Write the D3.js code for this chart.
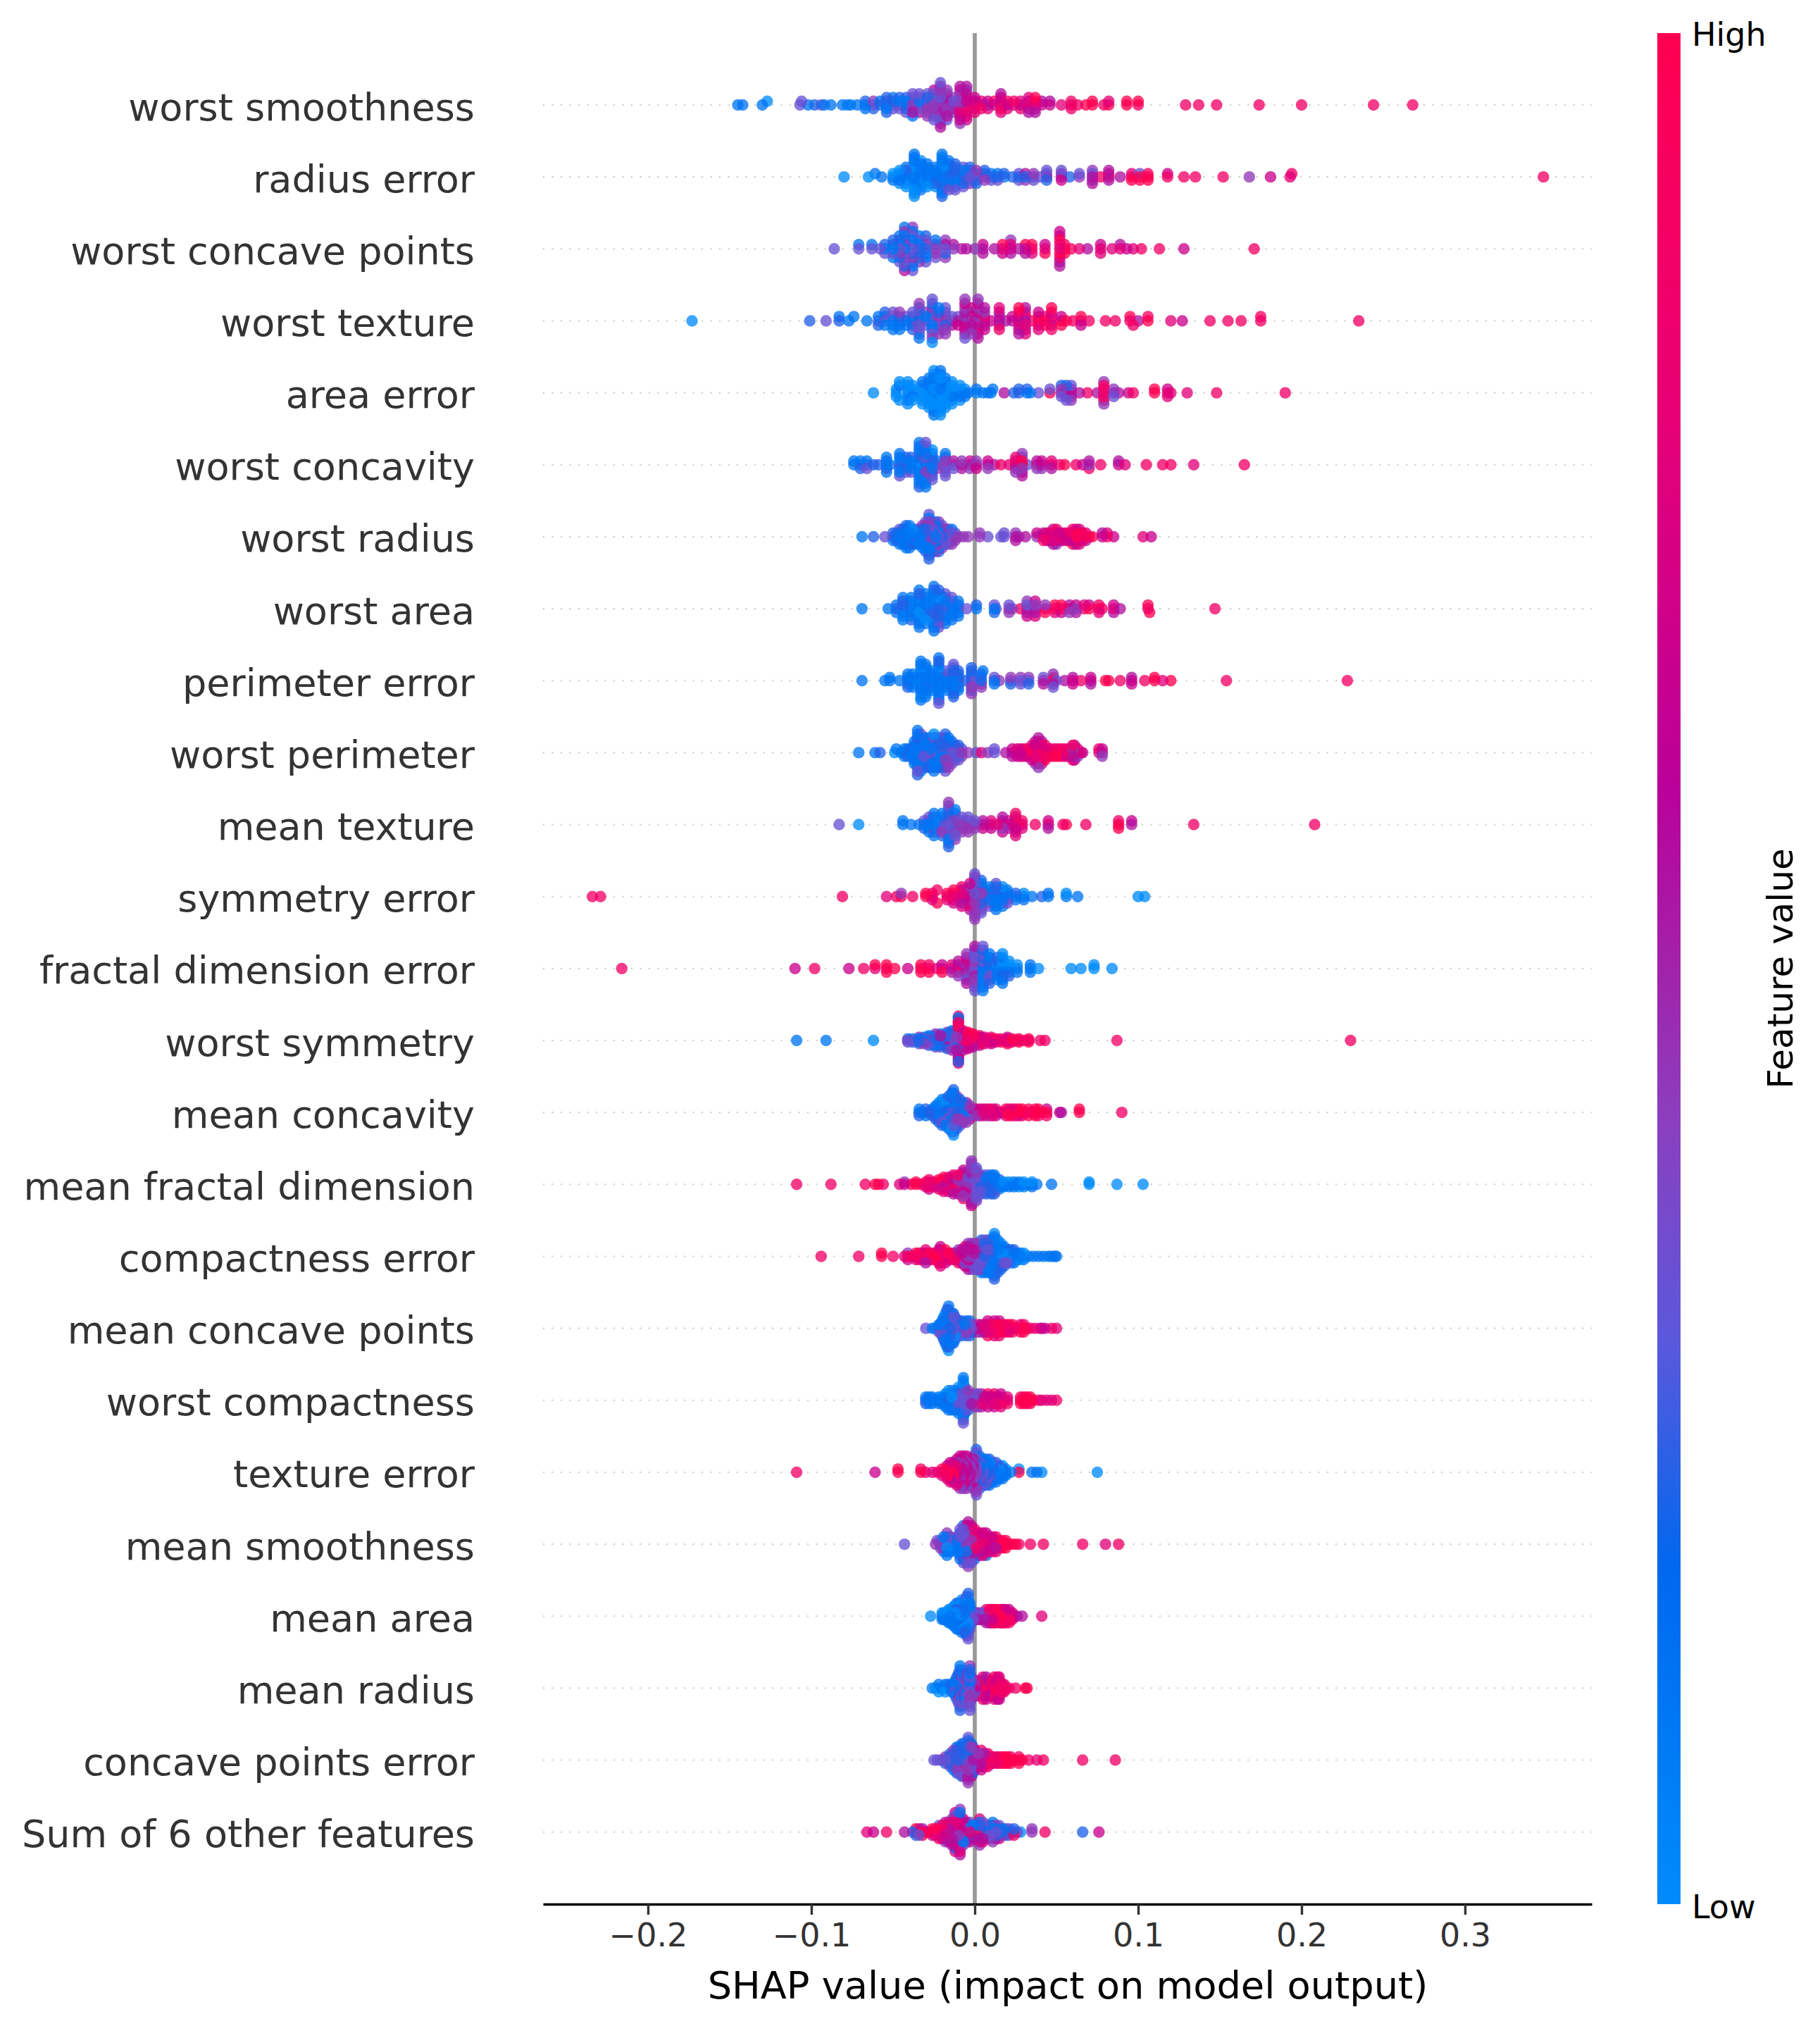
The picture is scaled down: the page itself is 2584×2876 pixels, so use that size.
<!DOCTYPE html>
<html>
<head>
<meta charset="utf-8">
<script src="https://cdn.jsdelivr.net/npm/d3@7"></script>
<style>
  html, body { margin: 0; background: #fff; }
  text { font-family: "DejaVu Sans", sans-serif; }
</style>
</head>
<body>
<div id="chart"></div>
<script>
var features = ["worst smoothness", "radius error", "worst concave points", "worst texture", "area error",
  "worst concavity", "worst radius", "worst area", "perimeter error", "worst perimeter", "mean texture",
  "symmetry error", "fractal dimension error", "worst symmetry", "mean concavity", "mean fractal dimension",
  "compactness error", "mean concave points", "worst compactness", "texture error", "mean smoothness",
  "mean area", "mean radius", "concave points error", "Sum of 6 other features"];

var xTicks = [-0.2, -0.1, 0, 0.1, 0.2, 0.3];

// colorbar, low to high
var colorStops = [0, 0.18, 0.3, 0.415, 0.51, 0.6, 0.8, 1];
var colorValues = ["#008bfb", "#0068ee", "#5a58dc", "#8a40c0", "#a51fa8", "#bb0099", "#e80075", "#ff0051"];

// each entry: [SHAP value x 1000, feature level of every dot at that value, one digit 0-9 per dot]
var worstSmoothness = [[-145,"1"],[-142,"1"],[-130,"1"],[-127,"0"],[-107,"3"],[-106,"3"],[-102,"1"],[-98,"2"],[-94,"3"],[-92,"1"],[-88,"1"],[-81,"1"],[-78,"0"],[-76,"1"],[-72,"1"],[-67,"121"],[-62,"342"],[-58,"21"],[-54,"13122"],[-50,"1231"],[-46,"4132"],[-42,"21223"],[-38,"4423531"],[-34,"213453"],[-29,"4352434"],[-25,"435243453"],[-21,"4543546435435"],[-17,"564534543"],[-13,"43543"],[-9,"43657467654"],[-5,"7686767365"],[0,"76867"],[4,"678"],[8,"567"],[12,"68"],[16,"768675"],[20,"687"],[24,"68"],[28,"678"],[33,"76675"],[37,"78695"],[41,"65"],[46,"65"],[53,"7"],[59,"788"],[63,"8"],[68,"9"],[72,"99"],[79,"8"],[82,"97"],[93,"99"],[100,"89"],[129,"8"],[137,"8"],[148,"8"],[174,"8"],[200,"8"],[244,"8"],[268,"8"]];
var radiusError = [[-80,"0"],[-65,"0"],[-61,"1"],[-57,"1"],[-50,"001"],[-46,"10100"],[-42,"1012010"],[-37,"10011010010101"],[-33,"1011020110"],[-29,"10110101"],[-24,"1211210"],[-20,"12011021011021"],[-16,"2123112131"],[-12,"123212123"],[-7,"2321233"],[-3,"323142"],[1,"32142"],[6,"3142"],[10,"213"],[14,"213"],[18,"12"],[23,"2"],[27,"233"],[31,"254"],[36,"343"],[40,"3"],[44,"5323"],[53,"4563"],[58,"2"],[64,"43"],[72,"53445"],[77,"8"],[82,"8755"],[89,"5"],[96,"879"],[101,"939"],[106,"989"],[118,"86"],[128,"8"],[135,"8"],[152,"8"],[168,"4"],[181,"6"],[193,"7"],[194,"8"],[348,"8"]];
var worstConcavePoints = [[-86,"3"],[-71,"31"],[-63,"31"],[-58,"3"],[-55,"123"],[-50,"12321"],[-46,"3142213"],[-43,"14324134215"],[-38,"31214321143"],[-34,"2123214"],[-30,"2413123"],[-24,"42413"],[-18,"35244"],[-13,"45"],[-8,"5"],[-5,"5"],[0,"4"],[5,"565"],[12,"5"],[17,"796"],[22,"6754"],[27,"5"],[31,"695"],[35,"897"],[43,"769"],[52,"789976565"],[55,"989"],[59,"8"],[64,"7"],[69,"5"],[77,"767"],[84,"7"],[89,"75"],[93,"6"],[97,"7"],[102,"8"],[113,"8"],[128,"6"],[171,"8"]];
var worstTexture = [[-173,"0"],[-101,"2"],[-91,"3"],[-83,"21"],[-77,"1"],[-74,"1"],[-66,"1"],[-59,"312"],[-55,"3112"],[-50,"13131"],[-46,"32141"],[-42,"231"],[-38,"21432"],[-34,"213432341"],[-30,"2134"],[-26,"34121432430"],[-22,"3432414"],[-18,"4523434"],[-14,"435"],[-10,"536"],[-6,"5465645634"],[-2,"6457564"],[2,"5476547654"],[6,"675465"],[10,"6"],[15,"645687"],[19,"5"],[23,"56"],[27,"5678695"],[31,"5678657"],[35,"8"],[39,"89867"],[43,"978"],[47,"876789"],[53,"869"],[56,"9"],[60,"8"],[65,"896"],[70,"8"],[80,"8"],[86,"8"],[95,"89"],[97,"8"],[100,"5"],[106,"98"],[120,"7"],[127,"6"],[144,"8"],[155,"8"],[163,"8"],[175,"88"],[235,"8"]];
var areaError = [[-62,"0"],[-48,"000"],[-46,"100"],[-41,"1000100"],[-38,"00100"],[-32,"1000010"],[-28,"000100010"],[-25,"1000100100101"],[-21,"0100010010010"],[-18,"010001010"],[-14,"0010100"],[-9,"10100"],[-6,"101"],[-4,"1"],[1,"01"],[5,"1"],[8,"1"],[10,"1"],[11,"1"],[18,"5"],[24,"2"],[27,"22"],[32,"12"],[34,"1"],[39,"3"],[46,"93"],[53,"5432"],[56,"46523"],[59,"57534"],[64,"5"],[69,"8"],[75,"5"],[79,"5888944"],[85,"543"],[88,"5"],[94,"6"],[97,"8"],[110,"99"],[118,"767"],[120,"7"],[130,"7"],[148,"8"],[190,"8"]];
var worstConcavity = [[-74,"11"],[-70,"112"],[-66,"213"],[-62,"2"],[-59,"2"],[-54,"12411"],[-52,"1"],[-46,"3121113"],[-42,"12123"],[-39,"11123"],[-34,"1102121112012"],[-30,"1213412102131"],[-26,"121431203"],[-23,"414"],[-18,"3452313"],[-13,"453"],[-8,"545"],[-3,"564"],[1,"546"],[8,"564"],[12,"5"],[16,"8"],[21,"7"],[25,"98574"],[29,"7943645"],[32,"3"],[38,"854"],[41,"564"],[47,"875"],[52,"7"],[55,"9"],[62,"8"],[66,"6"],[70,"458"],[77,"8"],[88,"65"],[92,"7"],[105,"8"],[115,"8"],[120,"8"],[134,"7"],[165,"8"]];
var worstRadius = [[-69,"1"],[-62,"2"],[-55,"3"],[-50,"121"],[-48,"112"],[-46,"11231"],[-44,"21121"],[-42,"2112121"],[-40,"1121211"],[-38,"11201"],[-36,"21132"],[-34,"12131"],[-32,"2132141"],[-30,"321214132"],[-28,"1313241421232"],[-26,"214312132"],[-24,"131241324"],[-22,"312143142"],[-20,"2143134"],[-18,"21343"],[-16,"34143"],[-14,"43414"],[-12,"434"],[-10,"4"],[-7,"4"],[-4,"4"],[3,"44"],[8,"3"],[16,"3"],[18,"33"],[25,"545"],[27,"4"],[31,"5"],[38,"46"],[42,"758"],[44,"476"],[46,"685"],[48,"89765"],[50,"97684"],[52,"765"],[54,"897"],[56,"876"],[58,"789"],[60,"67589"],[62,"98675"],[64,"99867"],[66,"987"],[68,"976"],[70,"9"],[72,"9"],[78,"65"],[81,"87"],[85,"6"],[103,"7"],[108,"6"]];
var worstArea = [[-69,"1"],[-53,"1"],[-48,"211"],[-44,"1212011"],[-39,"1121112"],[-34,"11011012111"],[-30,"112111011"],[-25,"1121301112111"],[-22,"21112031123"],[-18,"312112131"],[-14,"1211231"],[-10,"12211"],[-5,"3"],[1,"12"],[12,"132"],[13,"3"],[21,"534"],[23,"4"],[28,"8"],[32,"43546"],[37,"34567"],[43,"649"],[49,"897"],[53,"896"],[58,"654"],[62,"465"],[67,"87"],[70,"96"],[76,"987"],[78,"8"],[85,"765"],[89,"5"],[106,"89"],[107,"9"],[147,"8"]];
var perimeterError = [[-69,"1"],[-55,"1"],[-52,"11"],[-46,"1"],[-41,"11112"],[-38,"11011"],[-33,"1101111011011"],[-30,"11112111011"],[-26,"1101111"],[-22,"111211101112113"],[-17,"1211131"],[-13,"11121231132"],[-10,"1231121"],[-6,"2"],[-2,"323142124"],[4,"21424"],[5,"1"],[12,"231"],[15,"4"],[22,"342"],[28,"343"],[33,"342"],[42,"435"],[48,"98543"],[50,"3"],[55,"5"],[60,"656"],[65,"8"],[71,"665"],[80,"9"],[82,"9"],[89,"8"],[96,"656"],[104,"8"],[110,"99"],[115,"7"],[120,"9"],[154,"8"],[228,"8"]];
var worstPerimeter = [[-71,"1"],[-61,"1"],[-58,"2"],[-49,"0"],[-48,"1"],[-45,"1"],[-43,"111"],[-41,"112"],[-39,"121"],[-37,"1121211"],[-35,"1121211211312"],[-33,"11213212131"],[-31,"123112121"],[-29,"121312112"],[-27,"311212131"],[-25,"11112113101"],[-24,"213121312"],[-22,"311212132"],[-20,"213141232"],[-18,"43124131423"],[-16,"431241314"],[-14,"3241323"],[-12,"43123"],[-10,"34123"],[-8,"434"],[-4,"4"],[1,"3"],[4,"7"],[8,"4"],[12,"33"],[19,"5"],[23,"565"],[26,"576"],[28,"657"],[30,"867"],[32,"896"],[35,"88976"],[37,"8976954"],[39,"894769854"],[41,"9687856"],[43,"78589"],[46,"679"],[48,"978"],[50,"989"],[52,"898"],[54,"879"],[56,"986"],[58,"987"],[60,"94589"],[61,"98756"],[63,"674"],[65,"8"],[66,"6"],[76,"78"],[78,"564"]];
var meanTexture = [[-83,"3"],[-71,"0"],[-44,"11"],[-39,"1"],[-34,"1"],[-31,"132"],[-28,"12131"],[-25,"1021311"],[-20,"2131412"],[-16,"3412143213142"],[-12,"142341314"],[-8,"43534"],[-4,"34534"],[0,"534"],[5,"756"],[10,"576"],[14,"7"],[17,"65456"],[21,"675"],[25,"9565587"],[29,"687"],[37,"8"],[45,"765"],[54,"8"],[56,"9"],[68,"8"],[88,"989"],[96,"56"],[134,"8"],[208,"8"]];
var symmetryError = [[-234,"8"],[-229,"8"],[-81,"8"],[-54,"7"],[-48,"8"],[-45,"94"],[-38,"8"],[-30,"99"],[-26,"987"],[-23,"89"],[-17,"897"],[-13,"78796"],[-8,"6756587"],[-3,"656454765"],[0,"434543435445434"],[4,"34342141323"],[9,"3212313"],[13,"121212131"],[17,"1212101"],[20,"21213"],[25,"121"],[30,"101"],[35,"1"],[41,"2"],[45,"11"],[56,"10"],[63,"1"],[100,"0"],[104,"0"]];
var fractalDimensionError = [[-216,"8"],[-110,"6"],[-98,"8"],[-77,"6"],[-68,"8"],[-61,"79"],[-54,"899"],[-49,"9"],[-41,"6"],[-33,"899"],[-28,"989"],[-23,"7"],[-20,"769"],[-14,"675"],[-10,"56754"],[-5,"545646345"],[0,"3434534343453"],[5,"1213121312131"],[9,"121231312"],[14,"1012121"],[17,"101021101"],[21,"10102"],[26,"101"],[34,"111"],[39,"0"],[59,"0"],[65,"0"],[73,"00"],[84,"0"]];
var worstSymmetry = [[-109,"1"],[-91,"1"],[-62,"0"],[-41,"413"],[-38,"312"],[-34,"21143"],[-31,"13214"],[-28,"4121312"],[-24,"321342143"],[-21,"423145213"],[-17,"45213241342"],[-14,"5643127432514"],[-11,"6474356821345"],[-10,"89768574869532178"],[-7,"7986457956478"],[-4,"87586475896"],[-1,"875876495"],[3,"8776985"],[6,"78967"],[10,"87986"],[13,"897"],[16,"789"],[20,"89769"],[23,"698"],[27,"899"],[30,"8"],[33,"899"],[40,"8"],[43,"8"],[87,"8"],[230,"8"]];
var meanConcavity = [[-34,"112"],[-32,"1"],[-30,"121"],[-28,"2"],[-26,"312"],[-24,"21312"],[-22,"3111201"],[-20,"132141312"],[-18,"212131201"],[-16,"13124112321"],[-14,"3121114231013"],[-13,"312111423101320"],[-11,"21314121342"],[-9,"213141323"],[-7,"3412314"],[-5,"4231354"],[-3,"45346"],[-1,"465"],[1,"564"],[3,"675"],[5,"768"],[7,"564"],[9,"786"],[11,"867"],[13,"786"],[15,"7"],[17,"5"],[19,"987"],[21,"879"],[23,"678"],[25,"897"],[27,"986"],[29,"899"],[31,"9"],[33,"899"],[35,"9"],[37,"989"],[39,"898"],[41,"9"],[44,"968"],[52,"6"],[53,"5"],[64,"99"],[90,"8"]];
var meanFractalDimension = [[-109,"8"],[-88,"8"],[-67,"8"],[-61,"9"],[-59,"9"],[-56,"8"],[-46,"7"],[-43,"64"],[-39,"9"],[-36,"99"],[-33,"9"],[-30,"987"],[-28,"97986"],[-25,"567"],[-22,"67598"],[-19,"6756897"],[-16,"7657867"],[-13,"676589675"],[-10,"765465786"],[-7,"5647456765468"],[-4,"546543456"],[-2,"54544345464"],[1,"434333343434334"],[4,"432314323"],[7,"121231232"],[10,"212321212"],[12,"132121312"],[15,"10121"],[18,"101"],[21,"101"],[24,"011"],[27,"110"],[30,"101"],[33,"1"],[35,"101"],[38,"1"],[47,"1"],[70,"00"],[87,"0"],[103,"0"]];
var compactnessError = [[-94,"8"],[-71,"8"],[-57,"99"],[-50,"8"],[-43,"7"],[-41,"846"],[-38,"8"],[-36,"697"],[-34,"968"],[-32,"897"],[-30,"96875"],[-28,"898"],[-26,"879"],[-24,"958"],[-22,"79689"],[-21,"7796967"],[-18,"67896"],[-16,"697"],[-14,"867"],[-12,"768"],[-10,"75648"],[-8,"56756"],[-6,"5645376"],[-4,"456345645"],[-2,"345634543"],[0,"453534243"],[2,"342434334"],[4,"32343134321"],[6,"21323132131"],[8,"12131213121"],[10,"12131312021"],[12,"101213131201202"],[14,"10213120112"],[16,"102131201"],[18,"2101312"],[20,"21013"],[22,"10121"],[24,"11021"],[26,"101"],[28,"110"],[30,"101"],[33,"1"],[36,"1"],[39,"1"],[42,"1"],[45,"1"],[47,"1"],[49,"1"],[50,"1"]];
var meanConcavePoints = [[-30,"3"],[-26,"1"],[-24,"1"],[-22,"213"],[-21,"123"],[-20,"21312"],[-19,"2121312"],[-18,"121312101"],[-17,"21213120121"],[-16,"1012131021210"],[-15,"213121031"],[-14,"120131212"],[-13,"212313121"],[-12,"3121021"],[-11,"12132"],[-10,"21213"],[-8,"13121"],[-6,"413"],[-5,"21413"],[-3,"43121"],[-2,"345"],[1,"8"],[2,"675"],[4,"654"],[6,"875"],[8,"86769"],[10,"687"],[12,"75867"],[13,"798"],[15,"78968"],[17,"897"],[19,"989"],[21,"897"],[23,"899"],[25,"8"],[28,"978"],[30,"989"],[32,"8"],[34,"8"],[37,"7"],[40,"6"],[41,"6"],[43,"6"],[47,"8"],[50,"7"]];
var worstCompactness = [[-30,"212"],[-28,"211"],[-26,"111"],[-24,"1"],[-22,"211"],[-20,"101"],[-18,"21101"],[-16,"2112101"],[-14,"2012131"],[-12,"3121301"],[-10,"312131201"],[-8,"3213214"],[-7,"331312011010213"],[-6,"412314321"],[-4,"4315342"],[-2,"435"],[0,"34544"],[2,"45634"],[4,"54765"],[6,"567"],[8,"56786"],[10,"764"],[12,"65786"],[14,"678"],[16,"75867"],[18,"8"],[20,"678"],[28,"999"],[30,"989"],[32,"998"],[34,"899"],[36,"9"],[39,"8"],[41,"7"],[44,"7"],[47,"7"],[50,"8"]];
var textureError = [[-109,"8"],[-61,"6"],[-47,"99"],[-33,"98"],[-30,"7"],[-26,"7"],[-23,"8"],[-20,"897"],[-17,"98967"],[-15,"9867567"],[-13,"9689756"],[-11,"675654767"],[-9,"56465456364"],[-7,"65647564564"],[-5,"56465456364"],[-3,"546345645"],[-1,"45453465434"],[1,"434312234143423"],[3,"21314321312"],[5,"312131213"],[7,"212131312"],[9,"213120121"],[11,"1212131"],[13,"1012121"],[15,"10121"],[17,"12101"],[19,"101"],[22,"1"],[27,"90"],[35,"1"],[38,"1"],[41,"0"],[75,"0"]];
var meanSmoothness = [[-43,"3"],[-24,"4"],[-23,"3"],[-21,"134"],[-19,"10412"],[-17,"1203141"],[-15,"31421"],[-13,"214"],[-11,"12341"],[-9,"124312431"],[-7,"12431243523"],[-5,"45321354263"],[-4,"4532135426354"],[-2,"54634258463"],[0,"675846572"],[1,"7685465"],[3,"9687586"],[5,"8769567"],[7,"9678561"],[9,"68756"],[11,"87968"],[13,"89597"],[15,"989"],[17,"978"],[19,"999"],[21,"9"],[23,"9"],[25,"9"],[27,"8"],[34,"8"],[42,"8"],[66,"8"],[80,"7"],[88,"8"]];
var meanArea = [[-27,"0"],[-20,"101"],[-19,"101"],[-18,"011"],[-17,"101"],[-16,"01101"],[-15,"10110"],[-14,"10101"],[-13,"1012101"],[-12,"1012101"],[-11,"101210121"],[-10,"101121021"],[-9,"101112101"],[-8,"10121012101"],[-7,"012101210"],[-6,"01210121012"],[-5,"1012101210132"],[-4,"312101310120323"],[-3,"312101213"],[-2,"34231"],[-1,"313"],[0,"314"],[1,"343"],[2,"345"],[3,"435"],[4,"534"],[6,"345"],[7,"45675"],[9,"56786"],[10,"67897"],[11,"78698"],[12,"97869"],[13,"89786"],[15,"89796"],[16,"98769"],[17,"87998"],[18,"67889"],[19,"97868"],[20,"879"],[21,"87968"],[22,"796"],[23,"678"],[24,"6"],[26,"5"],[29,"5"],[41,"7"]];
var meanRadius = [[-26,"1"],[-24,"0"],[-22,"010"],[-20,"1"],[-18,"010"],[-16,"01"],[-14,"121"],[-12,"21312"],[-11,"3121021"],[-10,"312121423"],[-9,"3121214232312"],[-8,"212134123"],[-7,"132143213"],[-6,"2143212"],[-5,"321434123"],[-4,"431432143"],[-3,"4231434142343"],[-2,"4354352"],[-1,"43542"],[0,"45346"],[1,"43156"],[2,"457"],[3,"57643"],[5,"5764378"],[7,"5689756"],[8,"89756"],[9,"98756"],[11,"97685"],[12,"9768587"],[13,"87968"],[14,"7896876"],[15,"7896876"],[16,"978"],[17,"897"],[18,"978"],[19,"8"],[21,"8"],[25,"8"],[31,"9"],[32,"9"]];
var concavePointsError = [[-25,"3"],[-23,"3"],[-21,"3"],[-19,"4"],[-18,"342"],[-16,"324"],[-15,"34213"],[-13,"2421341"],[-11,"313232412"],[-10,"213241323"],[-8,"31323241231"],[-7,"41323142314"],[-6,"324153214"],[-4,"432141431252634"],[-3,"42315243564"],[-2,"43152634516"],[-1,"564536542"],[0,"5645365"],[2,"67545"],[4,"6754586"],[6,"76859"],[8,"76897"],[10,"789"],[12,"896"],[14,"668"],[16,"899"],[18,"999"],[20,"999"],[22,"989"],[24,"9"],[27,"989"],[29,"9"],[33,"8"],[38,"7"],[42,"8"],[66,"8"],[86,"8"]];
var sumOfOther = [[-66,"7"],[-62,"6"],[-54,"8"],[-43,"5"],[-38,"2"],[-36,"892"],[-34,"953"],[-32,"959"],[-30,"9"],[-28,"9"],[-26,"896"],[-24,"697"],[-22,"68739"],[-20,"63486"],[-18,"7869354"],[-16,"4586375"],[-14,"638457645"],[-12,"6384576453267"],[-10,"56472631438"],[-9,"564726314381745"],[-7,"637245163"],[-5,"5261473"],[-3,"7321536"],[-1,"43215"],[1,"93126"],[3,"931261574"],[5,"6421537"],[7,"24153"],[9,"52314"],[11,"5372314"],[13,"31245"],[15,"12536"],[17,"214"],[19,"132"],[21,"234"],[24,"128"],[26,"3"],[28,"0"],[35,"44"],[43,"8"],[66,"2"],[76,"6"]];

var rows = [worstSmoothness, radiusError, worstConcavePoints, worstTexture, areaError, worstConcavity,
  worstRadius, worstArea, perimeterError, worstPerimeter, meanTexture, symmetryError, fractalDimensionError,
  worstSymmetry, meanConcavity, meanFractalDimension, compactnessError, meanConcavePoints, worstCompactness,
  textureError, meanSmoothness, meanArea, meanRadius, concavePointsError, sumOfOther];

var width = 2584, height = 2876;
var axisY = 2703, barTop = 47;

var x = d3.scaleLinear().domain([-0.2642, 0.3776]).range([771, 2260]);
var y = d3.scalePoint().domain(features).range([149, 2600.7]);
var color = d3.scaleLinear().domain(colorStops).range(colorValues);

var svg = d3.select("#chart").append("svg")
    .attr("width", width)
    .attr("height", height)
    .style("display", "block");

// zero line and row guides go under the dots
svg.append("line")
    .attr("x1", x(0)).attr("x2", x(0))
    .attr("y1", barTop).attr("y2", axisY)
    .attr("stroke", "#999999")
    .attr("stroke-width", 5.7);

svg.append("g").selectAll("line")
    .data(features)
  .enter().append("line")
    .attr("x1", x.range()[0]).attr("x2", x.range()[1])
    .attr("y1", function(d) { return y(d); })
    .attr("y2", function(d) { return y(d); })
    .attr("stroke", "#cccccc")
    .attr("stroke-width", 2.1)
    .attr("stroke-dasharray", "2.1 10.4");

// same stacking as the shap beeswarm: bin into 100, then alternate up and down inside a bin
var beeswarm = function(row) {
  var points = [];
  row.forEach(function(bin) {
    bin[1].split("").forEach(function(level) {
      points.push({value: bin[0] / 1000, level: +level / 9});
    });
  });
  var extent = d3.extent(points, function(p) { return p.value; });
  var sorted = points.slice();
  sorted.forEach(function(p) {
    p.quant = Math.round(100 * (p.value - extent[0]) / (extent[1] - extent[0] + 1e-8));
  });
  sorted = d3.sort(sorted, function(a, b) { return a.quant - b.quant; });
  var layer = 0, lastBin = -1;
  sorted.forEach(function(p) {
    if (p.quant !== lastBin) layer = 0;
    p.lane = Math.ceil(layer / 2) * ((layer % 2) * 2 - 1);
    layer += 1;
    lastBin = p.quant;
  });
  var scale = 0.9 * 0.4 / (d3.max(sorted, function(p) { return p.lane; }) + 1);
  points.forEach(function(p) { p.lane *= scale; });
  // the original paints in shuffled order, so colours do not layer left to right
  return d3.sort(points.map(function(p, i) { return {p: p, k: (i * 7919) % points.length}; }),
    function(a, b) { return a.k - b.k; }).map(function(o) { return o.p; });
};

rows.forEach(function(row, i) {
  svg.append("g").selectAll("circle")
      .data(beeswarm(row))
    .enter().append("circle")
      .attr("cx", function(d) { return x(d.value); })
      .attr("cy", function(d) { return y(features[i]) - d.lane * y.step(); })
      .attr("r", 8.2)
      .attr("fill", function(d) { return color(d.level); })
      .attr("fill-opacity", 0.77);
});

// feature names
svg.append("g").selectAll("text")
    .data(features)
  .enter().append("text")
    .attr("x", 674)
    .attr("y", function(d) { return y(d) + 21.5; })
    .attr("text-anchor", "end")
    .attr("font-size", 54)
    .attr("fill", "#333333")
    .text(function(d) { return d; });

// x axis
var axis = svg.append("g")
    .attr("transform", "translate(0," + axisY + ")")
    .call(d3.axisBottom(x).tickValues(xTicks).tickSizeInner(15).tickSizeOuter(0).tickPadding(12).tickFormat(d3.format(".1f")));
axis.select(".domain").attr("stroke", "#000").attr("stroke-width", 3.4);
axis.selectAll(".tick line").attr("stroke", "#333333").attr("stroke-width", 3.4);
axis.selectAll(".tick text").attr("font-size", 46).attr("font-family", "DejaVu Sans").attr("fill", "#333333");

svg.append("text")
    .attr("x", 1516)
    .attr("y", 2837)
    .attr("text-anchor", "middle")
    .attr("font-size", 54.2)
    .attr("fill", "#000")
    .text("SHAP value (impact on model output)");

// colorbar
var gradient = svg.append("defs").append("linearGradient")
    .attr("id", "featureValue")
    .attr("x1", 0).attr("x2", 0).attr("y1", 1).attr("y2", 0);
gradient.selectAll("stop")
    .data(colorStops)
  .enter().append("stop")
    .attr("offset", function(d) { return d; })
    .attr("stop-color", function(d) { return color(d); });

svg.append("rect")
    .attr("x", 2353)
    .attr("y", barTop)
    .attr("width", 33)
    .attr("height", axisY - barTop)
    .attr("fill", "url(#featureValue)");

svg.append("text").attr("x", 2402).attr("y", 65).attr("font-size", 46).text("High");
svg.append("text").attr("x", 2402).attr("y", 2723).attr("font-size", 46).text("Low");

svg.append("text")
    .attr("transform", "translate(2545," + (barTop + axisY) / 2 + ") rotate(-90)")
    .attr("text-anchor", "middle")
    .attr("font-size", 50)
    .text("Feature value");
</script>
</body>
</html>
